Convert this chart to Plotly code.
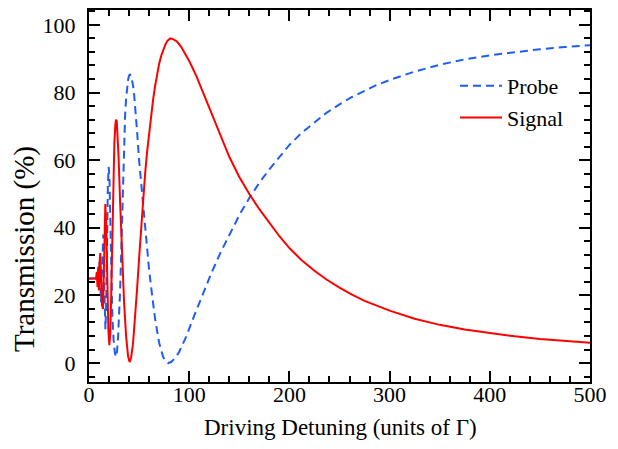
import plotly.graph_objects as go

# Driving detuning (units of Gamma) and transmission (%)
probe_x = [0, 5, 7, 8, 8.8, 9.6, 10.4, 11.2, 12, 12.8, 13.6, 14.3, 15, 15.7, 16.4, 17.2, 18, 18.8,
           19.6, 20.4, 21.3, 22.3, 23.3, 24.5, 25.8, 27, 28, 29, 30, 31, 32, 33, 34, 35, 36, 37,
           38, 39, 40, 41, 42, 43, 44, 45, 46, 48, 50, 52, 54, 56, 58, 60, 63, 66, 70, 74, 77, 79,
           82, 86, 90, 97, 105, 114, 122, 131, 140, 151, 160, 170, 180, 190, 200, 212, 225, 237,
           250, 262, 275, 287, 300, 325, 350, 375, 400, 425, 450, 475, 500]
probe_y = [25, 25, 25, 24, 27, 22, 30, 24, 18, 26, 37, 38, 25, 12, 10, 18, 38, 52,
           58, 55, 42, 26, 14, 7, 3, 1.8, 3.5, 7.5, 13, 21, 31, 42, 55, 65, 73, 78,
           81.5, 83.8, 85, 85.3, 85, 83.8, 82, 79.5, 76.5, 68.5, 60, 53, 46.5, 40, 33.5, 27.5, 20, 13, 6, 1.8, 0.4, 0,
           0.3, 1.5, 3.3, 7.8, 14, 20.7, 26.5, 32.5, 38, 44.3, 48.8, 53.3, 57.3, 61, 64.5, 68, 71.2, 74,
           76.5, 78.6, 80.5, 82.2, 83.7, 86.2, 88.2, 89.8, 91, 92, 92.8, 93.45, 94]

signal_x = [0, 5, 7, 7.8, 8.5, 9.2, 9.9, 10.6, 11.3, 12.2, 13, 14, 15, 16.3, 17.3, 18.3, 19.3,
            20.3, 21.3, 22.3, 23.3, 24.3, 25.3, 26.3, 27, 27.7, 28.5, 29.5, 31, 33, 35, 37, 39, 40.5,
            42, 44, 46, 48, 50, 52, 54, 56, 58, 60, 62, 64, 66, 68, 70, 72, 74, 76, 78, 81,
            84, 88, 92, 96, 100, 107, 114, 122, 131, 140, 150, 160, 170, 180, 190, 200, 212,
            225, 237, 250, 262, 275, 287, 300, 325, 350, 375, 400, 425, 450, 475, 500]
signal_y = [25, 25, 25, 27, 22.5, 28.5, 21.5, 30, 32.5, 24, 17, 16, 30, 47, 40, 24, 10,
            5.3, 9, 22, 40, 56, 65, 70.5, 72, 71.5, 68, 61, 48, 32, 18, 8, 2, 0.3,
            1.5, 6, 13, 22, 31, 40, 49, 56, 62.5, 68, 73, 78, 82, 85.5, 88.5, 90.8, 92.6, 94, 95.2, 96,
            95.8, 95, 93.5, 91.5, 89.3, 85, 80, 74, 67.5, 61, 55, 50, 45.5, 41.5, 37.5, 34, 30.5,
            27.3, 24.7, 22.3, 20.3, 18.4, 16.9, 15.5, 13.1, 11.3, 9.9, 8.8, 7.9, 7.1, 6.5, 6]

x_ticks = [0, 100, 200, 300, 400, 500]
y_ticks = [0, 20, 40, 60, 80, 100]

FONT = "Times New Roman"

fig = go.Figure()
fig.add_trace(go.Scatter(x=probe_x, y=probe_y, mode="lines", name="Probe",
                         line=dict(color="#1f5ef0", width=2, dash="8px,5px")))
fig.add_trace(go.Scatter(x=signal_x, y=signal_y, mode="lines", name="Signal",
                         line=dict(color="#ff0000", width=2)))

axis_common = dict(
    showline=True, linecolor="black", linewidth=2, mirror="allticks",
    ticks="inside", ticklen=11, tickwidth=2, tickcolor="black",
    showgrid=False, zeroline=False, automargin=False,
    tickfont=dict(family=FONT, size=22, color="black"),
)

fig.update_xaxes(range=[0, 500], tickvals=x_ticks, ticktext=[str(v) for v in x_ticks],
                 minor=dict(dtick=20, ticklen=6, tickwidth=2, ticks="inside", tickcolor="black", tick0=0),
                 ticklabelstandoff=-8,
                 **axis_common)
fig.update_yaxes(range=[-5.6, 104.4], tickvals=y_ticks, ticktext=[str(v) for v in y_ticks],
                 minor=dict(dtick=4, ticklen=6, tickwidth=2, ticks="inside", tickcolor="black", tick0=0),
                 ticklabelstandoff=7,
                 **axis_common)

# axis titles as annotations (placed in pixel terms relative to the plot area)
PW, PH = 501, 372
fig.add_annotation(text="Transmission (%)", textangle=-90, xref="paper", yref="paper",
                   x=(24 - 89) / PW, y=(382 - 249) / PH, xanchor="center", yanchor="middle",
                   showarrow=False, font=dict(family=FONT, size=29, color="black"))
fig.add_annotation(text="Driving Detuning (units of Γ)", xref="paper", yref="paper",
                   x=(340 - 89) / PW, y=(382 - 428) / PH, xanchor="center", yanchor="middle",
                   showarrow=False, font=dict(family=FONT, size=23, color="black"))

fig.update_layout(
    width=618, height=449,
    margin=dict(l=89, r=28, t=10, b=67, autoexpand=False),
    paper_bgcolor="white", plot_bgcolor="white",
    showlegend=True,
    legend=dict(x=(455 - 89) / PW, y=(382 - 65) / PH, xanchor="left", yanchor="top",
                bgcolor="rgba(0,0,0,0)", font=dict(family=FONT, size=22, color="black"),
                tracegroupgap=0, itemwidth=42),
    font=dict(family=FONT, color="black"),
)

fig.write_html("out.html")
